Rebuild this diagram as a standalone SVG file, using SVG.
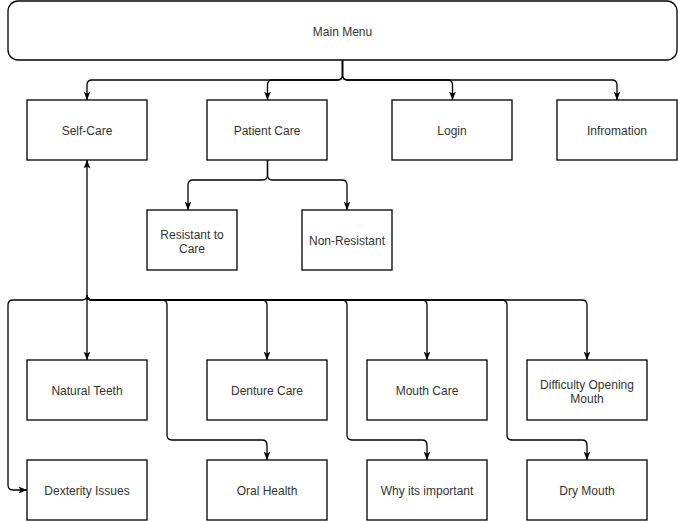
<svg xmlns="http://www.w3.org/2000/svg" width="678" height="521" viewBox="0 0 678 521">
<style>
.box{fill:#fff;stroke:#000;stroke-width:1.3}
.lbl{font-family:"Liberation Sans",Arial,Helvetica,sans-serif;font-size:12px;fill:#333;text-anchor:middle}
.edge{fill:none;stroke:#000;stroke-width:1.3;marker-end:url(#arr)}
</style>
<defs>
<marker id="arr" viewBox="0 0 10 8" refX="10" refY="4" markerWidth="8.5" markerHeight="7" markerUnits="userSpaceOnUse" orient="auto">
<path d="M0,0 L10,4 L0,8 L2.5,4 Z" fill="#000"/>
</marker>
</defs>
<rect width="678" height="521" fill="#fff"/>
<g id="connectors">
<path class="edge" d="M342.5,60 V75 Q342.5,80 337.5,80 H92 Q87,80 87,85 V100"/>
<path class="edge" d="M342.5,60 V75 Q342.5,80 337.5,80 H272.5 Q267.5,80 267.5,85 V100"/>
<path class="edge" d="M342.5,60 V75 Q342.5,80 347.5,80 H447.5 Q452.5,80 452.5,85 V100"/>
<path class="edge" d="M342.5,60 V75 Q342.5,80 347.5,80 H612 Q617,80 617,85 V100"/>
<path class="edge" d="M267.5,160 V175 Q267.5,180 262.5,180 H193 Q188,180 188,185 V210"/>
<path class="edge" d="M267.5,160 V175 Q267.5,180 272.5,180 H342 Q347,180 347,185 V210"/>
<path class="edge" d="M87,300 V160"/>
<path class="edge" d="M87,295 V360"/>
<path class="edge" d="M87,295 Q87,300 82,300 H13 Q8,300 8,305 V485 Q8,490 13,490 H27"/>
<path class="edge" d="M87,295 Q87,300 92,300 H162 Q167,300 167,305 V435 Q167,440 172,440 H262 Q267,440 267,445 V460"/>
<path class="edge" d="M87,295 Q87,300 92,300 H262 Q267,300 267,305 V360"/>
<path class="edge" d="M87,295 Q87,300 92,300 H342 Q347,300 347,305 V435 Q347,440 352,440 H422 Q427,440 427,445 V460"/>
<path class="edge" d="M87,295 Q87,300 92,300 H422 Q427,300 427,305 V360"/>
<path class="edge" d="M87,295 Q87,300 92,300 H502 Q507,300 507,305 V435 Q507,440 512,440 H582 Q587,440 587,445 V460"/>
<path class="edge" d="M87,295 Q87,300 92,300 H582 Q587,300 587,305 V360"/>
</g>
<g id="main-menu"><rect class="box" x="8" y="1" width="669" height="59" rx="10"/><text class="lbl" x="342.5" y="35.5">Main Menu</text></g>
<g id="self-care"><rect class="box" x="27" y="100" width="120" height="60"/><text class="lbl" x="87" y="135">Self-Care</text></g>
<g id="patient-care"><rect class="box" x="207" y="100" width="120" height="60"/><text class="lbl" x="267" y="135">Patient Care</text></g>
<g id="login"><rect class="box" x="392" y="100" width="120" height="60"/><text class="lbl" x="452" y="135">Login</text></g>
<g id="infromation"><rect class="box" x="557" y="100" width="120" height="60"/><text class="lbl" x="617" y="135">Infromation</text></g>
<g id="resistant"><rect class="box" x="147" y="210" width="90" height="60"/><text class="lbl" x="192" y="238.5">Resistant to</text><text class="lbl" x="192" y="252.5">Care</text></g>
<g id="non-resistant"><rect class="box" x="302" y="210" width="90" height="60"/><text class="lbl" x="347" y="245">Non-Resistant</text></g>
<g id="natural-teeth"><rect class="box" x="27" y="360" width="120" height="60"/><text class="lbl" x="87" y="395">Natural Teeth</text></g>
<g id="denture-care"><rect class="box" x="207" y="360" width="120" height="60"/><text class="lbl" x="267" y="395">Denture Care</text></g>
<g id="mouth-care"><rect class="box" x="367" y="360" width="120" height="60"/><text class="lbl" x="427" y="395">Mouth Care</text></g>
<g id="difficulty"><rect class="box" x="527" y="360" width="120" height="60"/><text class="lbl" x="587" y="388.5">Difficulty Opening</text><text class="lbl" x="587" y="402.5">Mouth</text></g>
<g id="dexterity"><rect class="box" x="27" y="460" width="120" height="60"/><text class="lbl" x="87" y="495">Dexterity Issues</text></g>
<g id="oral-health"><rect class="box" x="207" y="460" width="120" height="60"/><text class="lbl" x="267" y="495">Oral Health</text></g>
<g id="why-important"><rect class="box" x="367" y="460" width="120" height="60"/><text class="lbl" x="427" y="495">Why its important</text></g>
<g id="dry-mouth"><rect class="box" x="527" y="460" width="120" height="60"/><text class="lbl" x="587" y="495">Dry Mouth</text></g>
</svg>
